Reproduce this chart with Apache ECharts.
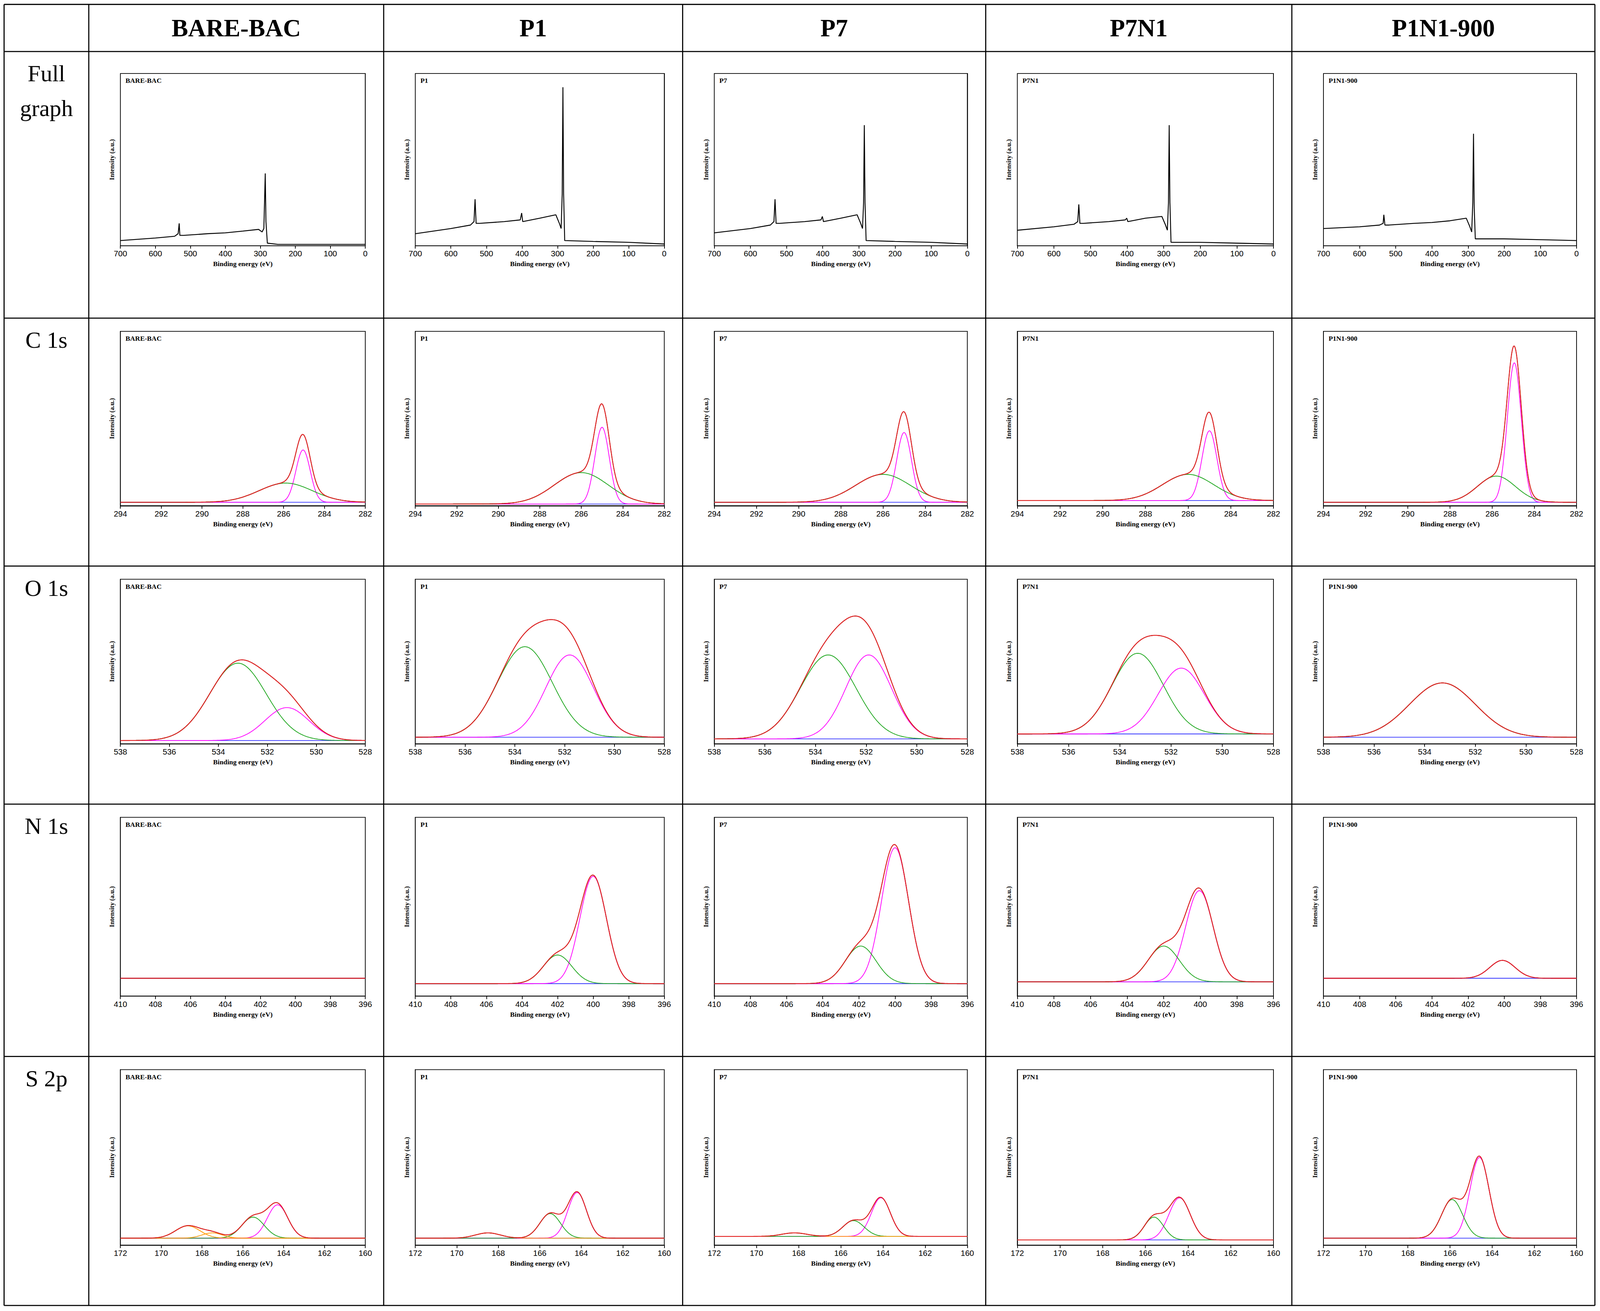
<!DOCTYPE html>
<html><head><meta charset="utf-8">
<script src="https://cdn.jsdelivr.net/npm/echarts@6/dist/echarts.min.js"></script>
<style>html,body{margin:0;background:#fff;overflow:hidden}#c{width:100vw;height:100vh}</style>
</head><body><div id="c"></div>
<script>
// ---- data ----
const samples = ['BARE-BAC','P1','P7','P7N1','P1N1-900'];
const rowLabels = ['Full\ngraph','C 1s','O 1s','N 1s','S 2p'];
const xRanges = [[0,700,100],[282,294,2],[528,538,2],[396,410,2],[160,172,2]];
// survey spectra: [binding energy, intensity] points
const surveyBARE = [[700,3],[600,4.5],[545,5.5],[535,7],[532,13],[530,6],[520,6],[450,7],[400,7.5],[350,8.5],[305,9.5],[295,8],[290,10],[286,42],[284,14],[280,1.5],[250,0.8],[0,0.8]];
const surveyP1 = [[700,7],[600,10],[545,12],[535,14],[532,27],[529,13],[520,13],[450,14],[405,15],[401,19],[398,14],[350,16],[305,18],[295,13],[290,10],[287,30],[285,92],[283,30],[280,3],[200,2.5],[100,2],[0,1]];
const surveyP7 = [[700,7.5],[600,10],[545,12],[535,14],[532,27],[529,13],[520,13],[450,14],[405,15],[401,17],[398,14],[350,16],[305,18],[295,13],[290,10],[287,25],[285,70],[283,25],[280,3],[200,2.5],[100,2],[0,1]];
const surveyP7N1 = [[700,9],[600,11],[545,12.5],[535,14],[532,24],[529,13],[520,13],[450,14],[405,15],[401,16],[398,14],[350,16],[305,17],[295,12],[290,9],[287,25],[285,70],[283,25],[280,2],[200,2],[100,1.5],[0,1]];
const surveyP1N1 = [[700,10],[600,11],[545,12],[535,13],[533,18],[530,12],[520,12],[450,13],[400,13.5],[350,14.5],[305,16],[295,11],[290,8],[287,25],[285,65],[283,22],[280,4],[200,4],[100,3.5],[0,3]];
const surveyData = [surveyBARE, surveyP1, surveyP7, surveyP7N1, surveyP1N1];
// fitted peaks [center, height, sigma, colour key]; baseline per sample
const c1sBase = [2,1,2,3,2];
const c1sPeaks = [
 [[285.05,30,0.35,'m'],[285.9,11,1.3,'g']],
 [[285.0,44,0.35,'m'],[286.0,18,1.3,'g']],
 [[285.0,40,0.35,'m'],[286.0,16,1.3,'g']],
 [[285.0,40,0.35,'m'],[286.0,15,1.2,'g']],
 [[284.95,80,0.33,'m'],[285.8,15,0.9,'g']]];
const o1sBase = [2,4,3,6,4];
const o1sPeaks = [
 [[533.2,47,1.15,'g'],[531.2,20,0.9,'m']],
 [[533.6,55,1.1,'g'],[531.8,50,0.95,'m']],
 [[533.5,51,1.1,'g'],[531.9,51,0.9,'m']],
 [[533.3,49,1.0,'g'],[531.6,40,0.9,'m']],
 [[533.3,33,1.3,'g']]];
const n1sBase = [10,7,7,8,10];
const n1sPeaks = [
 [],
 [[400.0,60,0.75,'m'],[402.0,16,0.8,'g']],
 [[400.0,76,0.75,'m'],[401.9,21,0.85,'g']],
 [[400.05,51,0.75,'m'],[402.0,20,0.85,'g']],
 [[400.1,10,0.7,'m']]];
const s2pBase = [4,4,5,3,4];
const s2pPeaks = [
 [[164.3,19,0.5,'m'],[165.5,12,0.55,'g'],[168.7,7,0.6,'o'],[167.5,3,0.5,'o']],
 [[164.2,26,0.45,'m'],[165.5,14,0.5,'g'],[168.5,3,0.6,'o']],
 [[164.1,22,0.45,'m'],[165.4,9,0.5,'g'],[168.2,2,0.6,'o']],
 [[164.4,24,0.5,'m'],[165.6,13,0.45,'g']],
 [[164.6,46,0.45,'m'],[165.9,22,0.5,'g']]];
const fitBases = [null,c1sBase,o1sBase,n1sBase,s2pBase];
const fitPeaks = [null,c1sPeaks,o1sPeaks,n1sPeaks,s2pPeaks];

// ---- layout ----
const W = window.innerWidth, H = window.innerHeight;
const S = W/1568, SY = H/1195, F = S/2.803;
const colX = [4,87,376,669,966,1266,1563];
const rowY = [4,47,290,516,733,963,1190];
const colours = {m:'#ff00ff', g:'#1aa51a', o:'#ff9900'};
const serif = 'Liberation Serif';

const grids=[], xAxes=[], yAxes=[], series=[], graphic=[];
function gauss(p,x){return p[1]*Math.exp(-0.5*Math.pow((x-p[0])/p[2],2));}

for(let r=0;r<5;r++){
  for(let c=0;c<5;c++){
    const L=(colX[c+1]+31)*S, R=(colX[c+2]-18)*S;
    const T=(rowY[r+1]+(r===0?20:12))*SY, B=(rowY[r+2]-(r===0?66:55))*SY;
    const gi=grids.length;
    grids.push({left:L,top:T,width:R-L,height:B-T,show:true,borderColor:'#000',borderWidth:2*F,backgroundColor:'#fff'});
    const xr=xRanges[r];
    xAxes.push({gridIndex:gi,type:'value',min:xr[0],max:xr[1],interval:xr[2],inverse:true,
      axisLine:{show:true,onZero:false,lineStyle:{color:'#000',width:2*F}},
      axisTick:{show:true,length:8*F,lineStyle:{color:'#000',width:2*F}},splitLine:{show:false},
      axisLabel:{fontFamily:'Liberation Sans',fontSize:22*F,color:'#000',margin:10*F},
      name:'Binding energy (eV)',nameLocation:'middle',nameGap:40*F,
      nameTextStyle:{fontFamily:serif,fontWeight:'bold',fontSize:19*F,color:'#000'}});
    yAxes.push({gridIndex:gi,type:'value',min:0,max:100,axisLabel:{show:false},axisTick:{show:false},
      splitLine:{show:false},axisLine:{show:true,lineStyle:{color:'#000',width:2*F}},
      name:'Intensity (a.u.)',nameLocation:'middle',nameGap:14*F,
      nameTextStyle:{fontFamily:serif,fontWeight:'bold',fontSize:18*F,color:'#000'}});
    graphic.push({type:'text',left:L+14*F,top:T+10*F,style:{text:samples[c],font:'bold '+(19*F)+'px "Liberation Serif"',fill:'#000'}});
    if(r===0){
      series.push({type:'line',xAxisIndex:gi,yAxisIndex:gi,data:surveyData[c],symbol:'none',
        lineStyle:{color:'#000',width:2.5*F},animation:false});
    } else {
      const base=fitBases[r][c], peaks=fitPeaks[r][c];
      const n=300, xs=[];
      for(let i=0;i<=n;i++) xs.push(xr[0]+(xr[1]-xr[0])*i/n);
      series.push({type:'line',xAxisIndex:gi,yAxisIndex:gi,symbol:'none',animation:false,
        data:[[xr[0],base],[xr[1],base]],lineStyle:{color:'#3333ff',width:2*F}});
      peaks.forEach(p=>{
        series.push({type:'line',xAxisIndex:gi,yAxisIndex:gi,symbol:'none',animation:false,
          data:xs.map(x=>[x,base+gauss(p,x)]),lineStyle:{color:colours[p[3]],width:2*F}});
      });
      series.push({type:'line',xAxisIndex:gi,yAxisIndex:gi,symbol:'none',animation:false,
        data:xs.map(x=>[x,base+peaks.reduce((s,p)=>s+gauss(p,x),0)]),lineStyle:{color:'#222',width:2*F}});
      series.push({type:'line',xAxisIndex:gi,yAxisIndex:gi,symbol:'none',animation:false,
        data:xs.map(x=>[x,base+peaks.reduce((s,p)=>s+gauss(p,x),0)]),lineStyle:{color:'#ff2020',width:2.5*F,opacity:0.85}});
    }
  }
}
// table lines
colX.forEach(x=>graphic.push({type:'line',shape:{x1:x*S,y1:rowY[0]*SY,x2:x*S,y2:rowY[6]*SY},style:{stroke:'#000',lineWidth:3*F}}));
rowY.forEach(y=>graphic.push({type:'line',shape:{x1:colX[0]*S,y1:y*SY,x2:colX[6]*S,y2:y*SY},style:{stroke:'#000',lineWidth:3*F}}));
// headers
samples.forEach((s,c)=>graphic.push({type:'text',x:(colX[c+1]+colX[c+2])/2*S,y:(rowY[0]+rowY[1])/2*SY,
  style:{text:s,font:'bold '+(68*F)+'px "Liberation Serif"',fill:'#000',align:'center',verticalAlign:'middle'}}));
rowLabels.forEach((t,r)=>graphic.push({type:'text',x:(colX[0]+colX[1])/2*S,y:(rowY[r+1]+4)*SY,
  style:{text:t,font:(64*F)+'px "Liberation Serif"',fill:'#000',align:'center',verticalAlign:'top',lineHeight:96*F}}));

const chart=echarts.init(document.getElementById('c'),null,{renderer:'svg'});
chart.setOption({animation:false,backgroundColor:'#fff',grid:grids,xAxis:xAxes,yAxis:yAxes,series,graphic});
</script></body></html>
